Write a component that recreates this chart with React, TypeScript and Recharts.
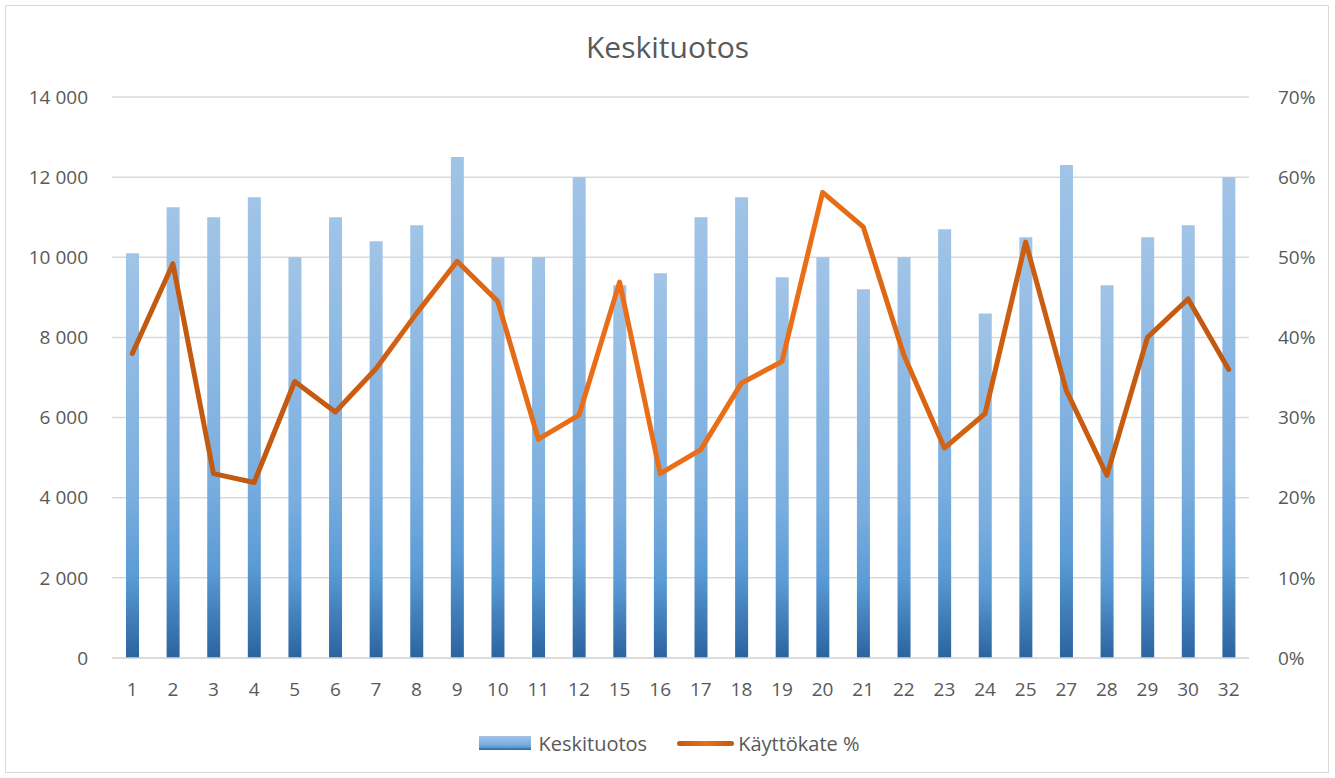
import { ComposedChart, Bar, Line, XAxis, YAxis, CartesianGrid, Legend } from 'recharts';

const days = ['1', '2', '3', '4', '5', '6', '7', '8', '9', '10', '11', '12', '15', '16', '17', '18', '19', '20', '21', '22', '23', '24', '25', '27', '28', '29', '30', '32'];
const keskituotos = [10100, 11250, 11000, 11500, 10000, 11000, 10400, 10800, 12500, 10000, 10000, 12000, 9300, 9600, 11000, 11500, 9500, 10000, 9200, 10000, 10700, 8600, 10500, 12300, 9300, 10500, 10800, 12000];
const kayttokate = [38.0, 49.2, 23.0, 21.9, 34.5, 30.7, 36.1, 43.0, 49.5, 44.5, 27.3, 30.3, 46.9, 23.0, 26.0, 34.3, 37.0, 58.1, 53.8, 37.8, 26.2, 30.5, 51.9, 33.4, 22.8, 40.0, 44.8, 36.0];
const leftTicks = [0, 2000, 4000, 6000, 8000, 10000, 12000, 14000];
const rightTicks = [0, 10, 20, 30, 40, 50, 60, 70];

const data = days.map((day, i) => ({ day, keskituotos: keskituotos[i], kate: kayttokate[i] }));

const FONT = '"Open Sans", sans-serif';
const TEXT = '#595959';
const GRID = '#d9d9d9';

const fmtThousands = (v: number) => String(v).replace(/\B(?=(\d{3})+(?!\d))/g, ' ');

function LegendContent() {
  return (
    <div style={{ display: 'flex', justifyContent: 'center', alignItems: 'center', height: 30, fontFamily: FONT, fontSize: 20, color: TEXT, paddingRight: 2 }}>
      <span style={{ display: 'inline-block', width: 52, height: 14, background: 'linear-gradient(#A1C4E7, #7AAEDF 60%, #5B9BD5 80%, #2A64A0)', marginRight: 7 }} />
      <span style={{ marginRight: 30 }}>Keskituotos</span>
      <span style={{ display: 'inline-block', width: 57, height: 5, borderRadius: 3, background: 'linear-gradient(90deg, #C15A11, #EA6E17 50%, #C15A11)', marginRight: 4 }} />
      <span>Käyttökate %</span>
    </div>
  );
}

export default function App() {
  return (
    <div style={{ position: 'fixed', left: 0, top: 0, width: 1335, height: 778, background: '#fff' }}>
      <div style={{ position: 'absolute', left: 5, top: 5, width: 1322, height: 766, border: `1px solid ${GRID}` }} />
      <div style={{ position: 'absolute', left: 0, top: 28, width: 1335, textAlign: 'center', fontFamily: FONT, fontSize: 30, color: TEXT, lineHeight: '38px' }}>
        Keskituotos
      </div>
      <div style={{ position: 'absolute', left: 0, top: 0 }}>
        <ComposedChart width={1335} height={778} data={data} margin={{ top: 97, right: 16, bottom: 20, left: 22 }} barCategoryGap="0%">
          <defs>
            <linearGradient id="barGrad" x1="0" y1="0" x2="0" y2="1">
              <stop offset="0%" stopColor="#A1C4E7" />
              <stop offset="60%" stopColor="#7AAEDF" />
              <stop offset="80%" stopColor="#5B9BD5" />
              <stop offset="100%" stopColor="#2A64A0" />
            </linearGradient>
            <linearGradient id="lineGrad" x1="0" y1="0" x2="1" y2="0">
              <stop offset="0%" stopColor="#C15A11" />
              <stop offset="18%" stopColor="#C55A11" />
              <stop offset="38%" stopColor="#EA6E17" />
              <stop offset="62%" stopColor="#EA6E17" />
              <stop offset="80%" stopColor="#CC5E10" />
              <stop offset="100%" stopColor="#C15A11" />
            </linearGradient>
          </defs>
          <CartesianGrid vertical={false} stroke={GRID} strokeWidth={1.5} yAxisId="left" />
          <XAxis
            dataKey="day"
            interval={0}
            height={70}
            tickLine={false}
            axisLine={{ stroke: GRID, strokeWidth: 1.5 }}
            tickMargin={19}
            tick={{ fill: TEXT, fontSize: 19, fontFamily: FONT }}
          />
          <YAxis
            yAxisId="left"
            domain={[0, 14000]}
            ticks={leftTicks}
            width={90}
            axisLine={false}
            tickLine={false}
            tickMargin={18}
            tickFormatter={fmtThousands}
            tick={{ fill: TEXT, fontSize: 19, fontFamily: FONT }}
          />
          <YAxis
            yAxisId="right"
            orientation="right"
            domain={[0, 70]}
            ticks={rightTicks}
            width={70}
            axisLine={false}
            tickLine={false}
            tickMargin={23}
            tickFormatter={(v: number) => `${v}%`}
            tick={{ fill: TEXT, fontSize: 19, fontFamily: FONT, textAnchor: 'start' }}
          />
          <Bar yAxisId="left" dataKey="keskituotos" name="Keskituotos" barSize={13} fill="url(#barGrad)" isAnimationActive={false} />
          <Line
            yAxisId="right"
            type="linear"
            dataKey="kate"
            name="Käyttökate %"
            stroke="url(#lineGrad)"
            strokeWidth={5}
            strokeLinejoin="round"
            strokeLinecap="round"
            dot={false}
            activeDot={false}
            isAnimationActive={false}
          />
          <Legend verticalAlign="bottom" height={30} content={<LegendContent />} />
        </ComposedChart>
      </div>
    </div>
  );
}
